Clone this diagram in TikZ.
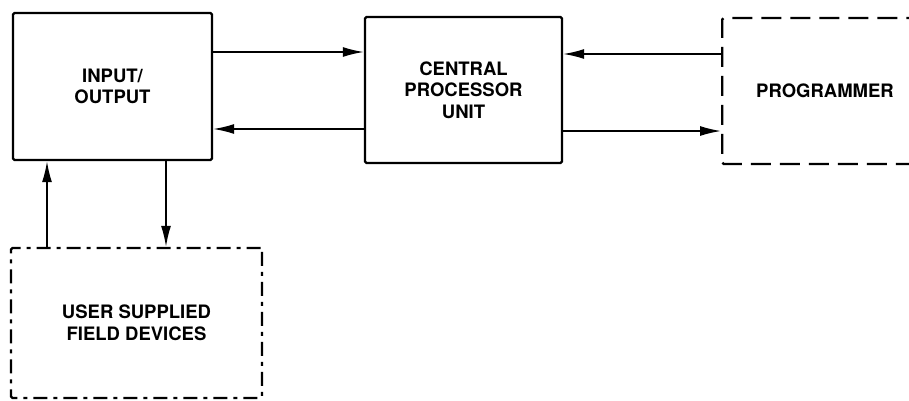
\documentclass[tikz,border=0pt]{standalone}
\usepackage{fontspec}
\setsansfont{TeX Gyre Heros}
\usetikzlibrary{arrows.meta}

\begin{document}
\begin{tikzpicture}[x=1pt, y=1pt,
    blockbox/.style={draw, line width=2.4pt, rounded corners=1.5pt, align=center,
      font=\sffamily\bfseries\fontsize{18.5}{21.5}\selectfont},
    progbox/.style={blockbox, dash pattern=on 20pt off 9pt},
    fieldbox/.style={blockbox, dash pattern=on 14pt off 6pt on 4pt off 6pt},
    flow/.style={-{Latex[length=21pt, width=10pt]}, line width=1.6pt}]
    \useasboundingbox (0,0) rectangle (909,400);
    \node[blockbox, minimum width=199, minimum height=147] (io) at (112.5,313.5) {INPUT/\\OUTPUT};
    \node[blockbox, minimum width=197, minimum height=146] (cpu) at (463.5,310) {CENTRAL\\PROCESSOR\\UNIT};
    \node[progbox, anchor=west, inner xsep=34, minimum height=146] (prog) at (721,309) {PROGRAMMER};
    \node[fieldbox, minimum width=251, minimum height=150] (field) at (136.5,77) {USER SUPPLIED\\FIELD DEVICES};
    \coordinate (ioout) at (0,348);
    \coordinate (ioin)  at (0,271);
    \coordinate (pgin)  at (0,346);
    \coordinate (pgout) at (0,269);
    \coordinate (fdup)  at (47,0);
    \coordinate (fddn)  at (166,0);
    \draw[flow] (io.east |- ioout) -- (cpu.west |- ioout);
    \draw[flow] (cpu.west |- ioin) -- (io.east |- ioin);
    \draw[flow] (prog.west |- pgin) -- (cpu.east |- pgin);
    \draw[flow] (cpu.east |- pgout) -- (prog.west |- pgout);
    \draw[flow] (field.north -| fdup) -- (io.south -| fdup);
    \draw[flow] (io.south -| fddn) -- (field.north -| fddn);
  \end{tikzpicture}
\end{document}
